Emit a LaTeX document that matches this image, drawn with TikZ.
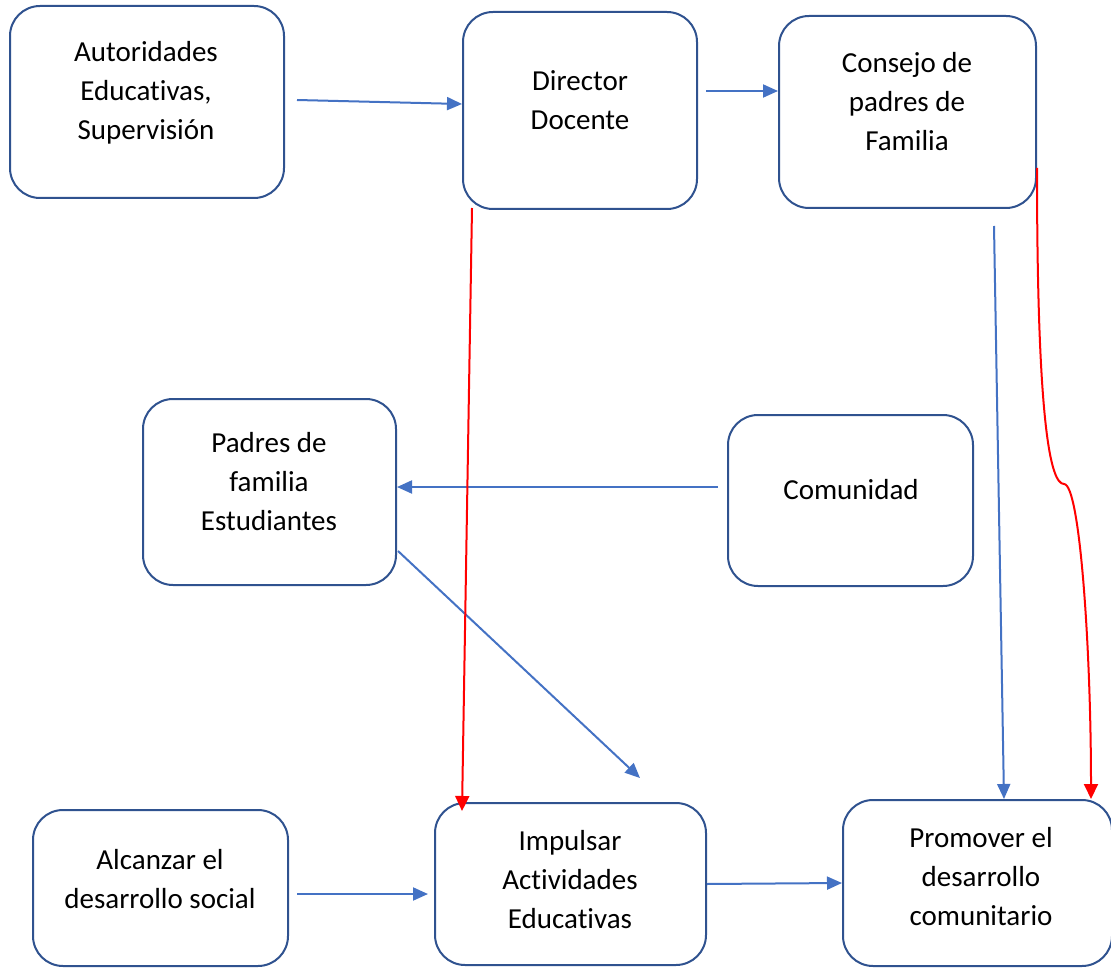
\documentclass[tikz,border=0pt]{standalone}
\usepackage{fontspec}
\setmainfont{Carlito}[Ligatures={NoCommon,NoContextual,NoRare}]
\usetikzlibrary{arrows.meta}
\definecolor{boxblue}{HTML}{2F528F}
\definecolor{flowblue}{HTML}{4472C4}
\definecolor{flowred}{HTML}{FF0000}
\tikzset{
    box/.style={draw=boxblue, line width=2pt, rounded corners=30pt, inner sep=0pt},
    txt/.style={align=center, inner sep=0pt, font=\fontsize{29}{39}\selectfont},
    flow/.style={draw=flowblue, line width=2pt, -{Triangle[length=15pt,width=13pt]}},
    back/.style={draw=flowred, line width=2pt, -{Triangle[length=15pt,width=14pt]}}
}
\begin{document}
\begin{tikzpicture}[x=1pt,y=-1pt]
    \useasboundingbox (0,0) rectangle (1111,968);

    % boxes
    \node[box, minimum width=274pt, minimum height=192pt] (autoridades) at (147,102) {};
    \node[box, minimum width=234pt, minimum height=197pt] (director) at (580,110.5) {};
    \node[box, minimum width=257pt, minimum height=192pt] (consejo) at (907.5,112) {};
    \node[box, minimum width=253pt, minimum height=186pt] (padres) at (269.5,492) {};
    \node[box, minimum width=245pt, minimum height=171pt] (comunidad) at (850.5,500.5) {};
    \node[box, minimum width=255pt, minimum height=156pt] (alcanzar) at (160.5,888) {};
    \node[box, minimum width=271pt, minimum height=162pt] (impulsar) at (570.5,884) {};
    \node[box, minimum width=269pt, minimum height=166pt] (promover) at (977.5,883) {};

    % texts
    \node[txt] (autoridades-txt) at (146,92.5) {Autoridades\\Educativas,\\Supervisión};
    \node[txt] (director-txt) at (580,100) {Director\\Docente};
    \node[txt] (consejo-txt) at (907,102) {Consejo de\\padres de\\Familia};
    \node[txt] (padres-txt) at (269,482) {Padres de\\familia\\Estudiantes};
    \node[txt] (comunidad-txt) at (851,490) {Comunidad};
    \node[txt] (alcanzar-txt) at (160,879) {Alcanzar el\\desarrollo social};
    \node[txt] (impulsar-txt) at (570,880) {Impulsar\\Actividades\\Educativas};
    \node[txt] (promover-txt) at (981,877) {Promover el\\desarrollo\\comunitario};

    % free ends
    \coordinate (autoridades-out) at (297,100);
    \coordinate (director-out) at (706,91);
    \coordinate (director-down) at (472,208);
    \coordinate (consejo-down) at (994,226);
    \coordinate (comunidad-out) at (718,487);
    \coordinate (padres-out) at (398,551);
    \coordinate (impulsar-in) at (640,778);
    \coordinate (alcanzar-out) at (297,894);
    \coordinate (impulsar-out) at (707,884);
    \coordinate (kink) at (1064,484);

    % blue flows
    \draw[flow] (autoridades-out) -- ([yshift=6.5pt]director.west);
    \draw[flow] (director-out) -- ([yshift=21pt]consejo.west);
    \draw[flow] (consejo-down) -- ([xshift=26.5pt]promover.north);
    \draw[flow] (comunidad-out) -- ([yshift=5pt]padres.east);
    \draw[flow] (padres-out) -- (impulsar-in);
    \draw[flow] (alcanzar-out) -- ([xshift=-6pt,yshift=-10pt]impulsar.west);
    \draw[flow] (impulsar-out) -- (promover.west);

    % red flows
    \draw[back] (director-down) -- ([xshift=-108.5pt,yshift=-9pt]impulsar.north);
    \draw[back] ([yshift=-56pt]consejo.east) .. controls (1037,420) and (1050,484) .. (kink)
        .. controls (1080,484) and (1091,650) .. ([xshift=113.5pt]promover.north);
\end{tikzpicture}
\end{document}
